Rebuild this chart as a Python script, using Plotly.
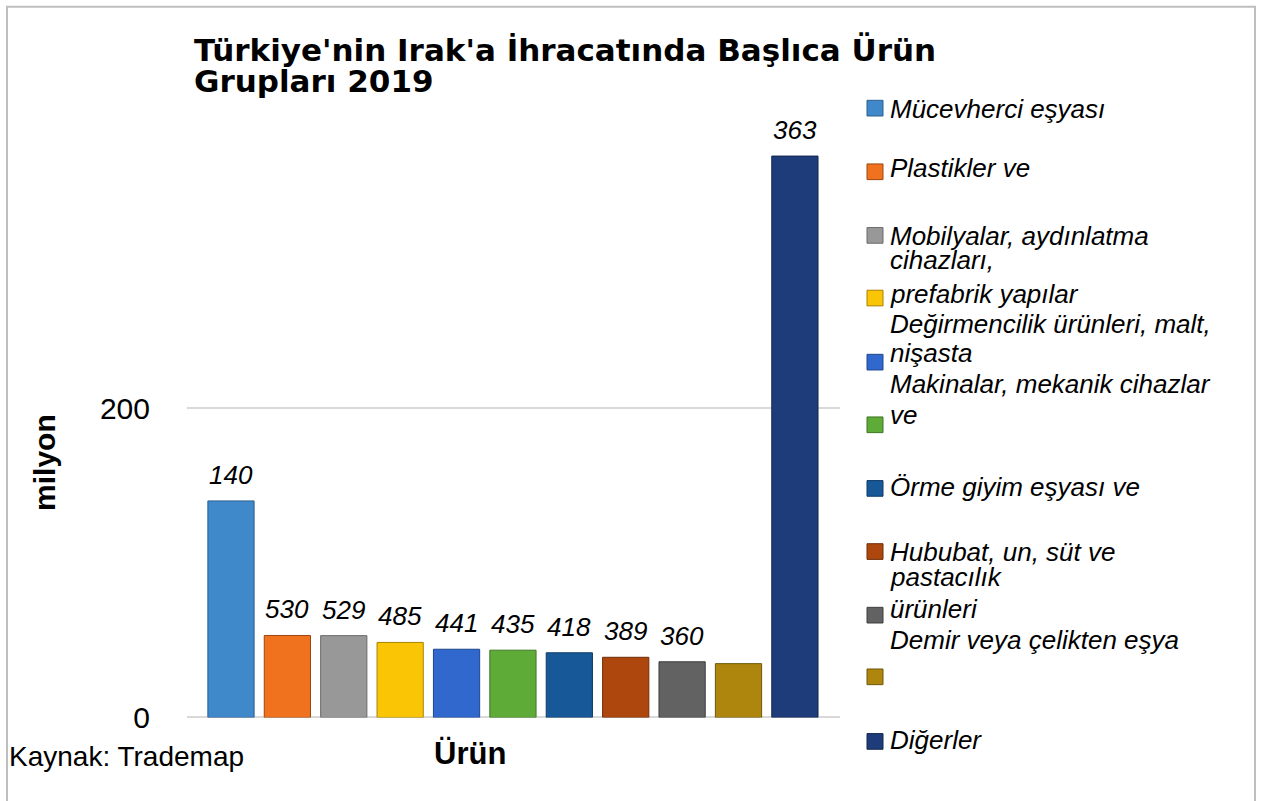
import plotly.graph_objects as go

# ---------------- data ----------------
CATEGORIES = [
    "Mücevherci eşyası",
    "Plastikler ve",
    "Mobilyalar, aydınlatma cihazları, prefabrik yapılar",
    "Değirmencilik ürünleri, malt, nişasta",
    "Makinalar, mekanik cihazlar ve",
    "Ürün 6",
    "Örme giyim eşyası ve",
    "Hububat, un, süt ve pastacılık ürünleri",
    "Demir veya çelikten eşya",
    "Ürün 10",
    "Diğerler",
]
VALUES = [140, 53.0, 52.9, 48.5, 44.1, 43.5, 41.8, 38.9, 36.0, 34.8, 363]
VALUE_LABELS = ["140", "530", "529", "485", "441", "435", "418", "389", "360", "", "363"]
COLORS = ["#3F89CB", "#F0721F", "#989898", "#FAC505", "#3068CE", "#5FAB38",
          "#175898", "#AE470E", "#626262", "#AE860E", "#1D3C79"]
EDGE_COLORS = ["#2A5F8F", "#9A4610", "#6A6A6A", "#A88200", "#1F468E", "#3F7526",
               "#0E3A66", "#6F2C08", "#3E3E3E", "#6E550A", "#12264E"]
Y_TICKS = [0, 200, 400]
Y_TICK_TEXT = ["0", "200", ""]
LEGEND_LINES = [
    "Mücevherci eşyası", "Plastikler ve", "Mobilyalar, aydınlatma", "cihazları,",
    "prefabrik yapılar", "Değirmencilik ürünleri, malt,", "nişasta",
    "Makinalar, mekanik cihazlar", "ve", "Örme giyim eşyası ve",
    "Hububat, un, süt ve", "pastacılık", "ürünleri", "Demir veya çelikten eşya",
    "Diğerler",
]
TITLE_LINES = ["Türkiye'nin Irak'a İhracatında Başlıca Ürün", "Grupları 2019"]
SOURCE = "Kaynak: Trademap"
X_TITLE = "Ürün"
Y_TITLE = "milyon"

# ---------------- layout geometry (pixels) ----------------
W, H = 1272, 801
def px(x):
    return x / W
def py(y):
    return 1 - y / H

LEGEND_LINE_Y = [111.5, 172, 241, 266, 300, 331, 361, 392, 424, 498, 564, 590, 622, 654, 756]
LEGEND_MARK_Y = [110.5, 175.5, 240.5, 304.5, 370, 434, 499, 563.5, 628.5, 691.5, 757.5]

FONT = "Liberation Sans, Arial, sans-serif"

fig = go.Figure()
fig.add_trace(go.Bar(
    x=CATEGORIES, y=VALUES,
    marker=dict(color=COLORS, line=dict(color=EDGE_COLORS, width=1)),
    hoverinfo="x+y",
))

annotations = []
# data labels
for c, v, t in zip(CATEGORIES, VALUES, VALUE_LABELS):
    if t:
        annotations.append(dict(
            x=c, y=v, xref="x", yref="y", text=t, showarrow=False,
            yanchor="bottom", yshift=9,
            font=dict(family=FONT, size=26, color="#000000", style="italic"),
        ))
# title
for txt, yy in zip(TITLE_LINES, [51, 82.5]):
    annotations.append(dict(
        x=px(192), y=py(yy), xref="paper", yref="paper", text=txt, showarrow=False,
        xanchor="left", yanchor="middle",
        font=dict(family="DejaVu Sans, Liberation Sans, Arial", size=31, color="#000000", weight="bold"),
    ))
# axis titles and source
annotations.append(dict(
    x=px(470), y=py(770), xref="paper", yref="paper", text=X_TITLE, showarrow=False,
    xanchor="center", yanchor="middle",
    font=dict(family=FONT, size=31, color="#000000", weight="bold"),
))
annotations.append(dict(
    x=px(45), y=py(473), xref="paper", yref="paper", text=Y_TITLE, showarrow=False,
    xanchor="center", yanchor="middle", textangle=-90,
    font=dict(family=FONT, size=30, color="#000000", weight="bold"),
))
annotations.append(dict(
    x=px(7), y=py(773), xref="paper", yref="paper", text=SOURCE, showarrow=False,
    xanchor="left", yanchor="middle",
    font=dict(family=FONT, size=28, color="#000000"),
))
# legend texts
for txt, yy in zip(LEGEND_LINES, LEGEND_LINE_Y):
    annotations.append(dict(
        x=px(888), y=py(yy), xref="paper", yref="paper", text=txt, showarrow=False,
        xanchor="left", yanchor="middle",
        font=dict(family=FONT, size=26, color="#000000", style="italic"),
    ))

shapes = []
# legend markers
for col, ec, yy in zip(COLORS, EDGE_COLORS, LEGEND_MARK_Y):
    shapes.append(dict(
        type="rect", xref="paper", yref="paper",
        x0=px(867), x1=px(883), y0=py(yy + 8), y1=py(yy - 8),
        fillcolor=col, line=dict(color=ec, width=1),
    ))
# outer border
shapes.append(dict(
    type="rect", xref="paper", yref="paper",
    x0=px(7), x1=px(1255), y0=-0.05, y1=py(7),
    line=dict(color="#BEBEBE", width=2), fillcolor="rgba(0,0,0,0)",
))

fig.update_layout(
    width=W, height=H, autosize=False,
    margin=dict(l=0, r=0, t=0, b=0),
    paper_bgcolor="#FFFFFF", plot_bgcolor="#FFFFFF",
    showlegend=False,
    bargap=0.18,
    xaxis=dict(
        domain=[px(187), px(840)],
        categoryorder="array", categoryarray=CATEGORIES,
        range=[-0.78, 10.8],
        showticklabels=False, showgrid=False, zeroline=False, showline=False, ticks="",
    ),
    yaxis=dict(
        domain=[py(733), py(101)],
        range=[0, 400],
        tickvals=Y_TICKS, ticktext=Y_TICK_TEXT,
        tickfont=dict(family=FONT, size=30, color="#000000"),
        ticklabelstandoff=36,
        showgrid=True, gridcolor="#D9D9D9", gridwidth=2,
        zeroline=True, zerolinecolor="#D9D9D9", zerolinewidth=2,
        showline=False, ticks="",
    ),
    annotations=annotations,
    shapes=shapes,
)

fig.write_html(
    "out.html",
    config={"displayModeBar": False},
    post_script="document.body.style.margin='0';document.body.style.overflow='hidden';",
)
